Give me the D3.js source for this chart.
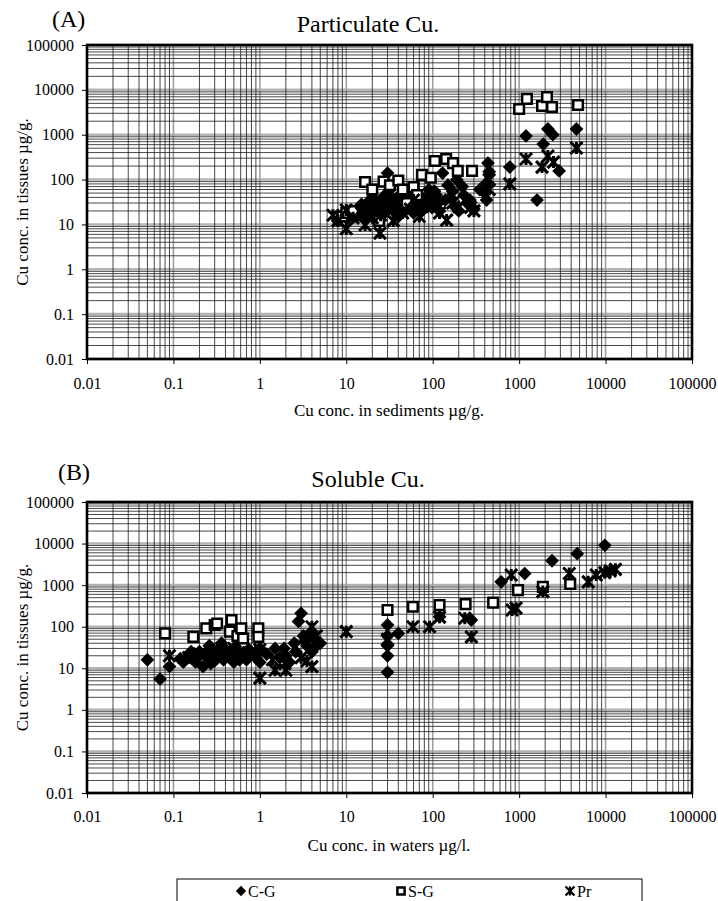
<!DOCTYPE html>
<html><head><meta charset="utf-8">
<script src="https://cdn.jsdelivr.net/npm/d3@7"></script>
<style>body{margin:0;background:#fff}svg{display:block}</style>
</head><body>
<svg id="c" width="718" height="901"></svg>
<script>
// ---- data ----
const xTickLabels = ["0.01","0.1","1","10","100","1000","10000","100000"];
const yTickLabels = ["0.01","0.1","1","10","100","1000","10000","100000"];
const seriesNames = ["C-G","S-G","Pr"];
const panelTitles = ["Particulate Cu.","Soluble Cu."];
const panelLetters = ["(A)","(B)"];
const xTitles = ["Cu conc. in sediments \u00b5g/g.","Cu conc. in waters \u00b5g/l."];
const yTitle = "Cu conc. in tissues \u00b5g/g.";

// Panel A: particulate (x = sediment conc, y = tissue conc)
const cgA = [[8,12],[9,16],[10,14],[11,20],[12,17],[13,15],[14,24],[15,28],[16,20],[17,14],[18,32],[19,22],[20,26],[20,40],[22,18],[23,30],[25,35],[25,22],[27,17],[28,45],[30,140],[30,28],[32,60],[33,40],[35,20],[36,25],[38,38],[40,15],[42,30],[45,50],[48,32],[50,22],[52,40],[55,35],[58,26],[60,18],[62,50],[65,28],[68,22],[70,45],[75,20],[80,30],[85,40],[90,60],[95,35],[100,25],[105,55],[110,45],[115,30],[120,20],[130,140],[140,35],[150,75],[160,40],[170,55],[180,25],[190,99],[200,20],[220,70],[230,45],[250,30],[270,35],[300,22],[350,60],[400,50],[420,84],[420,35],[436,233],[450,150],[780,190],[1200,940],[1610,35],[1900,620],[2150,1340],[2450,1000],[2900,156],[4600,1340]];
const sgA = [[9,15],[10,18],[12,20],[16.5,88],[20,60],[24,12],[27,90],[32,75],[40,95],[45,60],[50,30],[60,68],[66,45],[75,127],[95,110],[106,260],[143,287],[172,233],[195,156],[285,156],[1000,3750],[1230,6300],[1840,4360],[2100,6900],[2400,4140],[4800,4600]];
const prA = [[7,16],[8,12],[10,21],[10,8],[12,14],[15,18],[16.5,9.7],[18,22],[20,14],[24.5,6.4],[25,16],[30,25],[35,12],[40,30],[45,18],[55,22],[60,35],[70,15],[86,24],[100,40],[120,18],[145,12.5],[170,30],[200,25],[275,24],[300,20],[450,60],[450,100],[780,80],[1200,287],[1840,190],[2150,335],[2500,245],[4600,505]];

// Panel B: soluble (x = water conc, y = tissue conc)
const cgB = [[0.05,16],[0.07,5.5],[0.09,11],[0.12,17],[0.13,14],[0.15,20],[0.16,25],[0.18,14],[0.19,18],[0.2,25],[0.22,11],[0.23,22],[0.25,18],[0.26,35],[0.27,13],[0.28,30],[0.3,15],[0.32,26],[0.35,22],[0.36,40],[0.38,16],[0.4,28],[0.42,24],[0.45,18],[0.48,20],[0.5,14],[0.52,33],[0.55,25],[0.58,16],[0.6,20],[0.65,24],[0.7,16],[0.75,28],[0.8,22],[0.9,18],[1,14],[1,30],[1.2,22],[1.5,30],[1.7,18],[1.9,30],[2,20],[2.2,14],[2.5,40],[2.6,25],[2.8,134],[3,210],[3.2,60],[3.3,45],[3.5,35],[3.8,70],[4,25],[4.2,30],[4.5,48],[5,40],[30,8],[30,20],[30,35],[30,60],[30,110],[40,69],[120,174],[280,145],[620,1200],[1160,1900],[2400,3860],[4700,5700],[9800,9100]];
const sgB = [[0.08,69],[0.17,57],[0.24,91],[0.3,110],[0.32,120],[0.45,76],[0.47,145],[0.55,60],[0.61,91],[0.64,52],[0.96,91],[0.96,57],[30,252],[59,302],[120,330],[240,350],[500,380],[970,760],[1880,910],[3900,1070]];
const prB = [[0.09,20],[0.15,18],[0.2,22],[0.25,15],[0.3,25],[0.4,20],[0.5,30],[0.6,18],[0.8,25],[1,28],[1,5.8],[1.4,16],[1.5,9],[1.95,13],[2,9],[3,18],[3.5,15],[4,100],[4,11],[4.5,60],[10,76],[30,50],[59,100],[92,100],[120,170],[235,160],[280,57],[810,1750],[830,252],[920,280],[1880,700],[3800,1900],[6300,1200],[7800,1750],[9800,2000],[11300,2200],[13000,2400]];

// ---- drawing ----
const svg = d3.select("#c");
const FONT = "'Liberation Serif','Times New Roman',serif";
const decades = xTickLabels.map(Number);

const starPath = r => `M${-r},${-r}L${r},${r}M${-r},${r}L${r},${-r}M0,${-r}L0,${r}`;
const diamondPath = d3.symbol(d3.symbolSquare, 95)();
const squarePath = d3.symbol(d3.symbolSquare, 92)();

function drawMarker(sel, type, scale) {
  scale = scale || 1;
  if (type === 0) {
    sel.append("path").attr("d", diamondPath).attr("transform", `rotate(45) scale(${scale})`).attr("fill", "#000");
  } else if (type === 1) {
    sel.append("path").attr("d", squarePath).attr("transform", `scale(${scale})`).attr("fill", "#fff").attr("stroke", "#000").attr("stroke-width", 2.5 / scale);
  } else {
    sel.append("path").attr("d", starPath(6 * scale)).attr("fill", "none").attr("stroke", "#000").attr("stroke-width", 3 * scale);
  }
}

function panel(cfg) {
  const g = svg.append("g");
  const x = d3.scaleLog().domain([0.01, 1e5]).range([87, 692]);
  const y = d3.scaleLog().domain([0.01, 1e5]).range([cfg.bottom, cfg.top]);
  const minor = [];
  for (let e = -2; e <= 4; e++) for (let k = 2; k <= 9; k++) minor.push(k * Math.pow(10, e));

  const grid = g.append("g");
  grid.selectAll(".hmaj").data(decades).join("line")
    .attr("x1", x.range()[0]).attr("x2", x.range()[1])
    .attr("y1", d => y(d)).attr("y2", d => y(d))
    .attr("stroke", "#b4b4b4").attr("stroke-width", 2.6);
  grid.selectAll(".vmaj").data(decades).join("line")
    .attr("y1", cfg.top).attr("y2", cfg.bottom)
    .attr("x1", d => x(d)).attr("x2", d => x(d))
    .attr("stroke", "#a0a0a0").attr("stroke-width", 1.6);
  grid.selectAll(".hmin").data(minor).join("line")
    .attr("x1", x.range()[0]).attr("x2", x.range()[1])
    .attr("y1", d => y(d)).attr("y2", d => y(d))
    .attr("stroke", "#1a1a1a").attr("stroke-width", 0.8);
  grid.selectAll(".vmin").data(minor).join("line")
    .attr("y1", cfg.top).attr("y2", cfg.bottom)
    .attr("x1", d => x(d)).attr("x2", d => x(d))
    .attr("stroke", "#1a1a1a").attr("stroke-width", 0.8);

  g.append("rect").attr("x", 87).attr("y", cfg.top).attr("width", 605).attr("height", cfg.bottom - cfg.top)
    .attr("fill", "none").attr("stroke", "#000").attr("stroke-width", 2.6);

  const ya = g.append("g").attr("transform", "translate(87,0)")
    .call(d3.axisLeft(y).tickValues(decades).tickFormat((d, i) => yTickLabels[i]).tickSize(5).tickPadding(8));
  const xa = g.append("g").attr("transform", `translate(0,${cfg.bottom})`)
    .call(d3.axisBottom(x).tickValues(decades).tickFormat((d, i) => xTickLabels[i]).tickSize(5).tickPadding(cfg.xPad));
  [ya, xa].forEach(a => {
    a.select(".domain").remove();
    a.selectAll("line").attr("stroke", "#000").attr("stroke-width", 1);
    a.selectAll("text").attr("font-family", FONT).attr("font-size", 16).attr("fill", "#000");
  });

  cfg.series.forEach((data, si) => {
    const pts = g.append("g").selectAll("g").data(data).join("g")
      .attr("transform", d => `translate(${x(d[0])},${y(d[1])})`);
    pts.each(function () { drawMarker(d3.select(this), si); });
  });

  g.append("text").attr("x", cfg.letterX).attr("y", cfg.letterY).text(cfg.letter)
    .attr("font-family", FONT).attr("font-size", 24);
  g.append("text").attr("x", 368).attr("y", cfg.titleY).attr("text-anchor", "middle").text(cfg.title)
    .attr("font-family", FONT).attr("font-size", 24);
  g.append("text").attr("x", 389).attr("y", cfg.xTitleY).attr("text-anchor", "middle").text(cfg.xTitle)
    .attr("font-family", FONT).attr("font-size", 17);
  g.append("text").attr("transform", `translate(28,${(cfg.top + cfg.bottom) / 2}) rotate(-90)`)
    .attr("text-anchor", "middle").text(yTitle)
    .attr("font-family", FONT).attr("font-size", 17);
}

panel({ top: 45, bottom: 359, xPad: 14, series: [cgA, sgA, prA], letter: panelLetters[0], letterX: 52, letterY: 27,
        title: panelTitles[0], titleY: 32, xTitle: xTitles[0], xTitleY: 416 });
panel({ top: 502, bottom: 793, xPad: 13, series: [cgB, sgB, prB], letter: panelLetters[1], letterX: 58, letterY: 480,
        title: panelTitles[1], titleY: 487, xTitle: xTitles[1], xTitleY: 851 });

const lg = svg.append("g");
lg.append("rect").attr("x", 177).attr("y", 879).attr("width", 465).attr("height", 40)
  .attr("fill", "#fff").attr("stroke", "#000").attr("stroke-width", 1);
const legendX = [241, 401, 570];
seriesNames.forEach((name, i) => {
  const m = lg.append("g").attr("transform", `translate(${legendX[i]},891)`);
  drawMarker(m, i, 0.75);
  lg.append("text").attr("x", legendX[i] + 7).attr("y", 897).text(name)
    .attr("font-family", FONT).attr("font-size", 16);
});
</script>
</body></html>
